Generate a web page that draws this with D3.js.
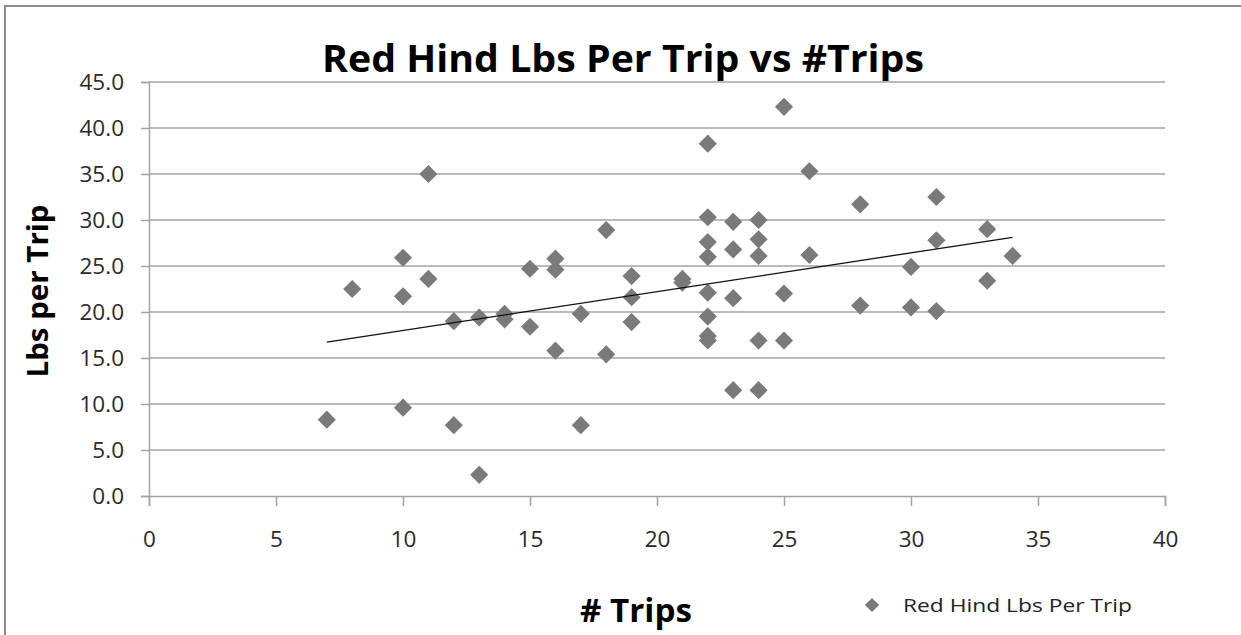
<!DOCTYPE html>
<html>
<head>
<meta charset="utf-8">
<script src="https://cdn.jsdelivr.net/npm/d3@7"></script>
<style>
  html, body { margin: 0; padding: 0; background: #fff; }
  svg { display: block; }
</style>
</head>
<body>
<svg id="chart" width="1241" height="635"></svg>
<script>
// ---- Data ----
const chartTitle = "Red Hind Lbs Per Trip vs #Trips";
const xAxisTitle = "# Trips";
const yAxisTitle = "Lbs per Trip";
const seriesName = "Red Hind Lbs Per Trip";

const trips = [7,8,10,10,10,11,11,12,12,13,13,14,14,15,15,16,16,16,17,17,18,18,19,19,19,21,21,
  22,22,22,22,22,22,22,22,23,23,23,23,24,24,24,24,24,25,25,25,26,26,28,28,30,30,31,31,31,33,33,34];
const lbsPerTrip = [8.3,22.5,25.9,21.7,9.6,35.0,23.6,19.0,7.7,19.4,2.3,19.8,19.2,24.7,18.4,25.8,24.6,15.8,19.8,7.7,28.9,15.4,23.9,21.6,18.9,23.6,23.2,
  38.3,30.3,27.6,26.0,22.1,19.5,17.4,16.9,29.8,26.8,21.5,11.5,30.0,27.9,26.1,16.9,11.5,42.3,22.0,16.9,35.3,26.2,31.7,20.7,24.9,20.5,32.5,27.8,20.1,29.0,23.4,26.1];

const xTicks = [0,5,10,15,20,25,30,35,40];
const yTicks = [0,5,10,15,20,25,30,35,40,45];

// ---- Layout ----
const svg = d3.select("#chart");
const plot = { left: 149, right: 1165, top: 82, bottom: 496 };
const gridColor = "#a3a3a3";
const markerColor = "#7a7a7a";
const labelFont = "'Open Sans', 'DejaVu Sans', sans-serif";
const titleFont = "'Open Sans', 'DejaVu Sans', sans-serif";

const x = d3.scaleLinear().domain([0, 40]).range([plot.left, plot.right]);
const y = d3.scaleLinear().domain([0, 45]).range([plot.bottom, plot.top]);

// outer chart frame (left and top edges visible)
svg.append("path")
  .attr("d", `M5,635 L5,6 L1241,6`)
  .attr("fill", "none")
  .attr("stroke", "#8c8c8c")
  .attr("stroke-width", 2);

// gridlines
svg.append("g")
  .selectAll("line")
  .data(yTicks.filter(d => d > 0))
  .join("line")
  .attr("x1", plot.left).attr("x2", plot.right)
  .attr("y1", d => y(d)).attr("y2", d => y(d))
  .attr("stroke", gridColor).attr("stroke-width", 1.5);

// y axis
const yAxis = svg.append("g")
  .attr("transform", `translate(${plot.left},0)`)
  .call(d3.axisLeft(y).tickValues(yTicks).tickFormat(d3.format(".1f")).tickSize(8).tickPadding(17));
yAxis.select(".domain").attr("stroke", gridColor).attr("stroke-width", 1.5);
yAxis.selectAll(".tick line").attr("stroke", gridColor).attr("stroke-width", 1.5);
yAxis.selectAll(".tick text")
  .attr("font-family", labelFont).attr("font-size", 22.5).attr("fill", "#2a2a2a");

// x axis
const xAxis = svg.append("g")
  .attr("transform", `translate(0,${plot.bottom})`)
  .call(d3.axisBottom(x).tickValues(xTicks).tickFormat(d3.format("d")).tickSize(10).tickPadding(25));
xAxis.select(".domain").attr("stroke", gridColor).attr("stroke-width", 1.5);
xAxis.selectAll(".tick line").attr("stroke", gridColor).attr("stroke-width", 1.5);
xAxis.selectAll(".tick text")
  .attr("font-family", labelFont).attr("font-size", 22.5).attr("fill", "#2a2a2a");

// points
const points = trips.map((t, i) => ({ x: t, y: lbsPerTrip[i] }));
const diamond = d3.symbol().type(d3.symbolSquare).size(165);
svg.append("g")
  .selectAll("path")
  .data(points)
  .join("path")
  .attr("d", diamond)
  .attr("transform", d => `translate(${x(d.x)},${y(d.y)}) rotate(45)`)
  .attr("fill", markerColor);

// linear trendline (least squares)
const mx = d3.mean(trips), my = d3.mean(lbsPerTrip);
const slope = d3.sum(points, p => (p.x - mx) * (p.y - my)) / d3.sum(points, p => (p.x - mx) ** 2);
const intercept = my - slope * mx;
const xExt = d3.extent(trips);
svg.append("path")
  .datum(xExt.map(v => ({ x: v, y: intercept + slope * v })))
  .attr("d", d3.line().x(d => x(d.x)).y(d => y(d.y)))
  .attr("fill", "none")
  .attr("stroke", "#111")
  .attr("stroke-width", 1.3);

// titles
svg.append("text")
  .attr("x", 623).attr("y", 72)
  .attr("text-anchor", "middle")
  .attr("font-family", titleFont).attr("font-weight", "bold").attr("font-size", 37)
  .attr("textLength", 602).attr("lengthAdjust", "spacingAndGlyphs")
  .attr("fill", "#000")
  .text(chartTitle);

svg.append("text")
  .attr("transform", "translate(48,291) rotate(-90)")
  .attr("text-anchor", "middle")
  .attr("font-family", titleFont).attr("font-weight", "bold").attr("font-size", 28)
  .attr("textLength", 173).attr("lengthAdjust", "spacingAndGlyphs")
  .attr("fill", "#000")
  .text(yAxisTitle);

svg.append("text")
  .attr("x", 636).attr("y", 622)
  .attr("text-anchor", "middle")
  .attr("font-family", titleFont).attr("font-weight", "bold").attr("font-size", 33)
  .attr("textLength", 112).attr("lengthAdjust", "spacingAndGlyphs")
  .attr("fill", "#000")
  .text(xAxisTitle);

// legend
const legend = svg.append("g").attr("transform", "translate(872,605)");
legend.append("path")
  .attr("d", d3.symbol().type(d3.symbolSquare).size(100))
  .attr("transform", "rotate(45)")
  .attr("fill", markerColor);
legend.append("text")
  .attr("x", 31).attr("y", 7)
  .attr("font-family", labelFont).attr("font-size", 19)
  .attr("textLength", 229).attr("lengthAdjust", "spacingAndGlyphs")
  .attr("fill", "#222")
  .text(seriesName);
</script>
</body>
</html>
